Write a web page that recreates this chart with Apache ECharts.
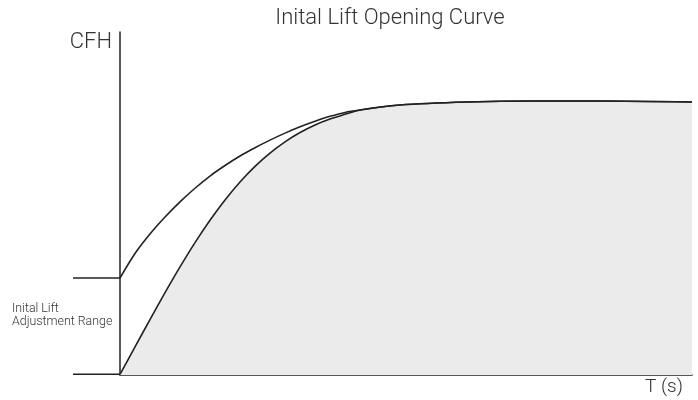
<!DOCTYPE html>
<html>
<head>
<meta charset="utf-8">
<script src="https://cdn.jsdelivr.net/npm/echarts@6/dist/echarts.min.js"></script>
<style>
html,body{margin:0;padding:0;background:#fff;}
#c{width:698px;height:400px;}
</style>
</head>
<body>
<div id="c"></div>
<script>
// Time (relative 0..100) and flow (relative 0..100)
var timeSteps = [0, 2.62, 5.24, 7.87, 10.49, 13.11, 15.73, 18.36, 20.98, 23.6, 26.22, 28.85, 31.47, 34.09, 36.71, 39.34, 41.96, 48.95, 60.66, 72.2, 83.92, 100];
var upperQ = [28.53, 35.74, 41.47, 46.47, 50.94, 54.94, 58.53, 61.62, 64.41, 66.85, 69.09, 71.15, 73.03, 74.68, 76.09, 77.24, 77.94, 79.41, 80.29, 80.59, 80.59, 80.29];
var lowerQ = [0.2, 8.24, 16.32, 24.21, 31.79, 38.94, 45.53, 51.5, 56.79, 61.38, 65.29, 68.59, 71.32, 73.56, 75.32, 76.68, 77.94, 79.41, 80.29, 80.59, 80.59, 80.29];
// Initial lift adjustment range bounds
var rangeLevels = [28.53, 0.2];

var titleText = 'Inital Lift Opening Curve';
var yName = 'CFH';
var xName = 'T (s)';
var rangeText = 'Inital Lift\nAdjustment Range';

function pairs(xs, ys) { return xs.map(function (x, i) { return [x, ys[i]]; }); }

var chart = echarts.init(document.getElementById('c'), null, {renderer: 'canvas'});
var lineCol = '#222';
var txtCol = '#333';
var font = 'Roboto, "Liberation Sans", sans-serif';

var option = {
  animation: false,
  backgroundColor: '#fff',
  grid: [
    {left: 120, right: 6, top: 32, bottom: 25},
    {left: 73, width: 47, top: 32, bottom: 25}
  ],
  xAxis: [
    {gridIndex: 0, type: 'value', min: 0, max: 100,
     axisLine: {show: true, lineStyle: {color: lineCol, width: 1.5}},
     axisTick: {show: false}, axisLabel: {show: false}, splitLine: {show: false}},
    {gridIndex: 1, type: 'value', min: 0, max: 1, show: false}
  ],
  yAxis: [
    {gridIndex: 0, type: 'value', min: 0, max: 100.9,
     axisLine: {show: true, lineStyle: {color: lineCol, width: 1.5}},
     axisTick: {show: false}, axisLabel: {show: false}, splitLine: {show: false}},
    {gridIndex: 1, type: 'value', min: 0, max: 100.9, show: false}
  ],
  series: [
    {type: 'line', xAxisIndex: 0, yAxisIndex: 0, data: pairs(timeSteps, lowerQ),
     smooth: 0.3, showSymbol: false, z: 2,
     lineStyle: {color: lineCol, width: 1.6},
     areaStyle: {color: '#ebebeb', opacity: 1}},
    {type: 'line', xAxisIndex: 0, yAxisIndex: 0, data: pairs(timeSteps, upperQ),
     smooth: 0.3, showSymbol: false, z: 3,
     lineStyle: {color: lineCol, width: 1.6}},
    {type: 'line', xAxisIndex: 1, yAxisIndex: 1, data: [[0, rangeLevels[0]], [1, rangeLevels[0]]],
     showSymbol: false, lineStyle: {color: lineCol, width: 1.5}},
    {type: 'line', xAxisIndex: 1, yAxisIndex: 1, data: [[0, rangeLevels[1]], [1, rangeLevels[1]]],
     showSymbol: false, lineStyle: {color: lineCol, width: 1.5}}
  ],
  graphic: [
    {type: 'text', x: 390, y: 18, style: {text: titleText, font: '300 22px ' + font, fill: txtCol, textAlign: 'center', textVerticalAlign: 'middle'}},
    {type: 'text', x: 112, y: 42, style: {text: yName, font: '300 22px ' + font, fill: txtCol, textAlign: 'right', textVerticalAlign: 'middle'}},
    {type: 'text', x: 645, y: 387.5, style: {text: xName, font: '300 19px ' + font, fill: txtCol, textAlign: 'left', textVerticalAlign: 'middle'}},
    {type: 'text', x: 12, y: 302, style: {text: rangeText, font: '300 12.4px ' + font, lineHeight: 13, fill: txtCol, textAlign: 'left', textVerticalAlign: 'top'}}
  ]
};
chart.setOption(option);
</script>
</body>
</html>
